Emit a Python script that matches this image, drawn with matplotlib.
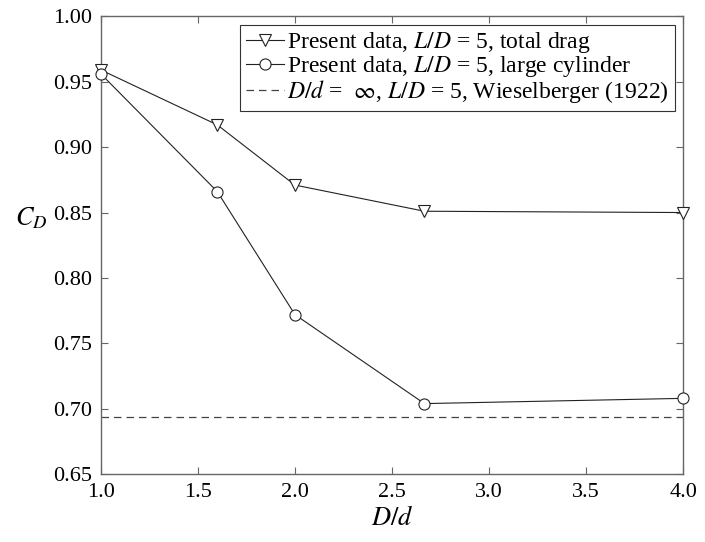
import matplotlib

matplotlib.use("Agg")
import matplotlib.pyplot as plt

plt.rcParams["font.family"] = ["Liberation Serif", "DejaVu Serif"]
plt.rcParams["mathtext.fontset"] = "stix"

# D/d ratios and drag coefficients
dd = [1.0, 1.6, 2.0, 2.667, 4.0]
cd_total = [0.959, 0.917, 0.871, 0.851, 0.850]
cd_large = [0.956, 0.866, 0.772, 0.704, 0.708]
cd_wieselberger = 0.694

x_ticks = [1.0, 1.5, 2.0, 2.5, 3.0, 3.5, 4.0]
y_ticks = [0.65, 0.70, 0.75, 0.80, 0.85, 0.90, 0.95, 1.00]

fig = plt.figure(figsize=(7.05, 5.42), dpi=100)
ax = fig.add_axes([0.143, 0.125, 0.826, 0.845])

ax.plot(dd, cd_total, color="#222222", linewidth=0.8, marker="v", markersize=8,
        markerfacecolor="white", markeredgecolor="#222222", markeredgewidth=0.8,
        label="Present data, $L/D$ = 5, total drag", clip_on=False, zorder=3)
ax.plot(dd, cd_large, color="#222222", linewidth=0.8, marker="o", markersize=8,
        markerfacecolor="white", markeredgecolor="#222222", markeredgewidth=0.8,
        label="Present data, $L/D$ = 5, large cylinder", clip_on=False, zorder=3)
ax.axhline(cd_wieselberger, color="#444444", linewidth=0.9, linestyle=(0, (6, 4)),
           label=r"$D/d$ =  $\infty$, $L/D$ = 5, Wieselberger (1922)")

ax.set_xlim(1.0, 4.0)
ax.set_ylim(0.65, 1.00)
ax.set_xticks(x_ticks)
ax.set_xticklabels([f"{v:.1f}" for v in x_ticks])
ax.set_yticks(y_ticks)
ax.set_yticklabels([f"{v:.2f}" for v in y_ticks])
ax.tick_params(direction="in", length=5, width=0.8, color="#666666",
               labelsize=16, top=True, right=True, pad=6)
for s in ax.spines.values():
    s.set_color("#666666")
    s.set_linewidth(1.0)

ax.set_xlabel("$D/d$", fontsize=19, labelpad=3)
ax.set_ylabel("$C_D$", fontsize=19, rotation=0, ha="center", va="center")
ax.yaxis.set_label_coords(-0.12, 0.56)

leg = ax.legend(loc="upper right", fontsize=17, handlelength=1.6, handletextpad=0.15,
                borderaxespad=0.35, borderpad=0.25, labelspacing=-0.05, fancybox=False,
                framealpha=1)
leg.get_frame().set_edgecolor("#333333")
leg.get_frame().set_linewidth(0.8)

fig.savefig("out.png", dpi=100)
